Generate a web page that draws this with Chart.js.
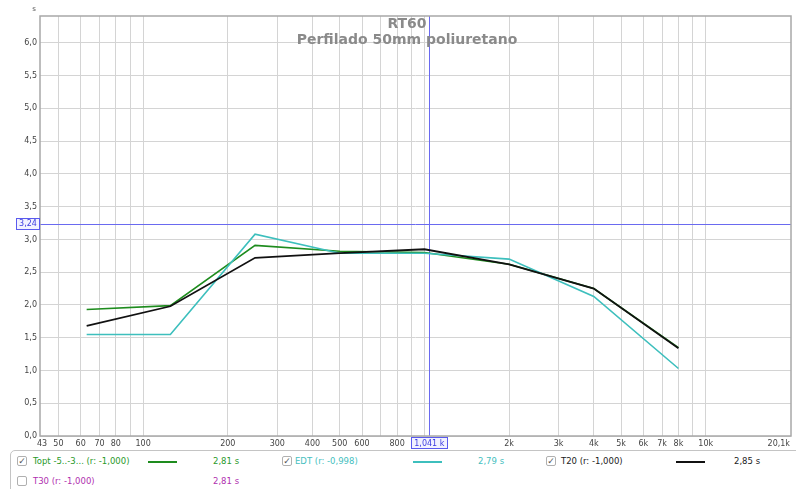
<!DOCTYPE html>
<html><head><meta charset="utf-8">
<script src="https://cdn.jsdelivr.net/npm/chart.js@4/dist/chart.umd.min.js"></script>
<style>
html,body{margin:0;padding:0;background:#fff;}
body{width:796px;height:489px;position:relative;overflow:hidden;font-family:"DejaVu Sans",sans-serif;}
#c{position:absolute;left:0;top:0;}
#legend{position:absolute;left:10px;top:450px;width:800px;height:60px;border:1px solid #c4c4c4;border-radius:5px;box-sizing:border-box;}
.it{position:absolute;font-size:8.5px;white-space:nowrap;line-height:10px;}
.cb{position:absolute;width:10px;height:10px;border:1px solid #b0b0b0;border-radius:2px;background:#fff;box-sizing:border-box;font-size:9px;line-height:9px;text-align:center;color:#555;}
.ln{position:absolute;height:2px;width:29px;}
</style></head><body>
<canvas id="c" width="796" height="450"></canvas>
<div id="legend"></div>
<div id="items"></div>
<script>
// ---- data ----
const freqs = [63, 125, 250, 500, 1000, 2000, 4000, 8000];
const toptValues = [1.93, 1.99, 2.91, 2.82, 2.80, 2.62, 2.25, 1.35];
const edtValues  = [1.55, 1.55, 3.08, 2.79, 2.79, 2.70, 2.13, 1.03];
const t20Values  = [1.68, 1.98, 2.72, 2.79, 2.85, 2.62, 2.25, 1.34];
const xGridTicks = [50,60,70,80,90,100,200,300,400,500,600,700,800,900,1000,2000,3000,4000,5000,6000,7000,8000,9000,10000];
const xLabelValues = [43,50,60,70,80,100,200,300,400,500,600,800,2000,3000,4000,5000,6000,7000,8000,10000];
const xLabelTexts  = ['43','50','60','70','80','100','200','300','400','500','600','800','2k','3k','4k','5k','6k','7k','8k','10k'];
const xEndLabel = '20,1k';
const yTicks = [0,0.5,1,1.5,2,2.5,3,3.5,4,4.5,5,5.5,6];
const cursorFreq = 1041, cursorFreqLabel = '1,041 k';
const cursorValue = 3.24, cursorValueLabel = '3,24';
const titleLines = ['RT60', 'Perfilado 50mm poliuretano'];
const legendRows = [
  {name:'Topt -5..-3... (r: -1,000)', value:'2,81 s', checked:true, color:'#1e8c1e', text:'#2a9a2a'},
  {name:'EDT (r: -0,998)', value:'2,79 s', checked:true, color:'#3dbfbd', text:'#45c0c0'},
  {name:'T20 (r: -1,000)', value:'2,85 s', checked:true, color:'#111111', text:'#222222'},
  {name:'T30 (r: -1,000)', value:'2,81 s', checked:false, color:'#b030b0', text:'#b030b0'}
];

const mk = (vals) => freqs.map((f,i)=>({x:f, y:vals[i]}));
const FONT = '"DejaVu Sans", sans-serif';

const overlay = {
  id:'overlay',
  beforeDatasetsDraw(chart){
    const {ctx, chartArea:a, scales:{x,y}} = chart;
    ctx.save();
    ctx.strokeStyle = '#6a6af0'; ctx.lineWidth = 1;
    const cx = Math.round(x.getPixelForValue(cursorFreq)) + 0.5;
    const cy = Math.round(y.getPixelForValue(cursorValue)) + 0.5;
    ctx.beginPath(); ctx.moveTo(cx, a.top); ctx.lineTo(cx, a.bottom); ctx.stroke();
    ctx.beginPath(); ctx.moveTo(a.left, cy); ctx.lineTo(a.right, cy); ctx.stroke();
    ctx.restore();
  },
  afterDraw(chart){
    const {ctx, chartArea:a, scales:{x,y}} = chart;
    ctx.save();
    // frame
    ctx.strokeStyle = '#a8a8a8'; ctx.lineWidth = 1.5;
    ctx.strokeRect(a.left, a.top, a.right - a.left, a.bottom - a.top);
    // unit
    ctx.fillStyle = '#555'; ctx.font = '7px ' + FONT; ctx.textAlign='center'; ctx.textBaseline='middle';
    ctx.fillText('s', 34, 9);
    // x labels
    ctx.font = '8px ' + FONT; ctx.fillStyle = '#444';
    xLabelValues.forEach((v,i)=>{
      let px = x.getPixelForValue(v);
      if (i===0) px += 2;
      ctx.fillText(xLabelTexts[i], px, a.bottom + 7.5);
    });
    ctx.textAlign='right';
    ctx.fillText(xEndLabel, 790, a.bottom + 7.5);
    // title
    ctx.textAlign='center'; ctx.fillStyle = '#8a8a8a'; ctx.font = 'bold 14px ' + FONT;
    ctx.fillText(titleLines[0], 407, 24);
    ctx.fillText(titleLines[1], 407, 40);
    // cursor boxes
    const cx = x.getPixelForValue(cursorFreq);
    const cy = y.getPixelForValue(cursorValue);
    ctx.font = '8px ' + FONT;
    ctx.fillStyle = '#f2f2ff'; ctx.strokeStyle = '#5a5aee'; ctx.lineWidth = 1;
    ctx.fillRect(16, cy - 5.5, 24, 11); ctx.strokeRect(16.5, Math.round(cy - 5.5)+0.5, 23, 11);
    ctx.fillStyle = '#3c3ce0'; ctx.textAlign='center';
    ctx.fillText(cursorValueLabel, 28, cy + 0.5);
    ctx.fillStyle = '#f2f2ff';
    ctx.fillRect(cx - 18, a.bottom + 1, 36, 12);
    ctx.strokeRect(Math.round(cx - 18)+0.5, a.bottom + 1.5, 36, 11);
    ctx.fillStyle = '#3c3ce0';
    ctx.fillText(cursorFreqLabel, cx, a.bottom + 7.5);
    ctx.restore();
  }
};

new Chart(document.getElementById('c').getContext('2d'), {
  type:'line',
  data:{datasets:[
    {label:'Topt', order:2, data:mk(toptValues), borderColor:legendRows[0].color, borderWidth:1.6, pointRadius:0, tension:0, fill:false},
    {label:'EDT', order:1, data:mk(edtValues), borderColor:legendRows[1].color, borderWidth:1.6, pointRadius:0, tension:0, fill:false},
    {label:'T20', order:0, data:mk(t20Values), borderColor:legendRows[2].color, borderWidth:1.8, pointRadius:0, tension:0, fill:false}
  ]},
  options:{
    responsive:false, animation:false, devicePixelRatio:1,
    layout:{padding:{left:0,right:5,top:16,bottom:0}},
    plugins:{legend:{display:false}, tooltip:{enabled:false}, title:{display:false}},
    scales:{
      x:{type:'logarithmic', min:43, max:20100,
        afterBuildTicks:s=>{ s.ticks = xGridTicks.map(v=>({value:v})); },
        afterFit:s=>{ s.height = 14; },
        ticks:{display:false},
        grid:{color:'#d4d4d4', lineWidth:1, drawTicks:false},
        border:{display:false}},
      y:{type:'linear', min:0, max:6.41,
        afterBuildTicks:s=>{ s.ticks = yTicks.map(v=>({value:v})); },
        afterFit:s=>{ s.width = 40; },
        ticks:{font:{family:'DejaVu Sans', size:8}, color:'#444', padding:3,
          callback:v=>Number(v).toFixed(1).replace('.',',')},
        grid:{color:'#d4d4d4', lineWidth:1, drawTicks:false},
        border:{display:false}}
    }
  },
  plugins:[overlay]
});

// ---- legend (HTML) ----
const items = document.getElementById('items');
const pos = [
  {cb:[17,456], name:33, line:148, val:213, y:456},
  {cb:[282,456], name:295, line:413, val:478, y:456},
  {cb:[546,456], name:561, line:676, val:734, y:456},
  {cb:[17,476], name:33, line:null, val:213, y:476}
];
legendRows.forEach((r,i)=>{
  const p = pos[i];
  const cb = document.createElement('div'); cb.className='cb';
  cb.style.left=p.cb[0]+'px'; cb.style.top=p.cb[1]+'px';
  if (r.checked) cb.textContent='✓';
  items.appendChild(cb);
  const n = document.createElement('div'); n.className='it';
  n.style.left=p.name+'px'; n.style.top=(p.y)+'px'; n.style.color=r.text; n.textContent=r.name;
  items.appendChild(n);
  if (p.line!==null){
    const l = document.createElement('div'); l.className='ln';
    l.style.left=p.line+'px'; l.style.top=(p.y+5)+'px'; l.style.background=r.color;
    items.appendChild(l);
  }
  const v = document.createElement('div'); v.className='it';
  v.style.left=p.val+'px'; v.style.top=p.y+'px'; v.style.color=r.text; v.textContent=r.value;
  items.appendChild(v);
});
</script>
</body></html>
